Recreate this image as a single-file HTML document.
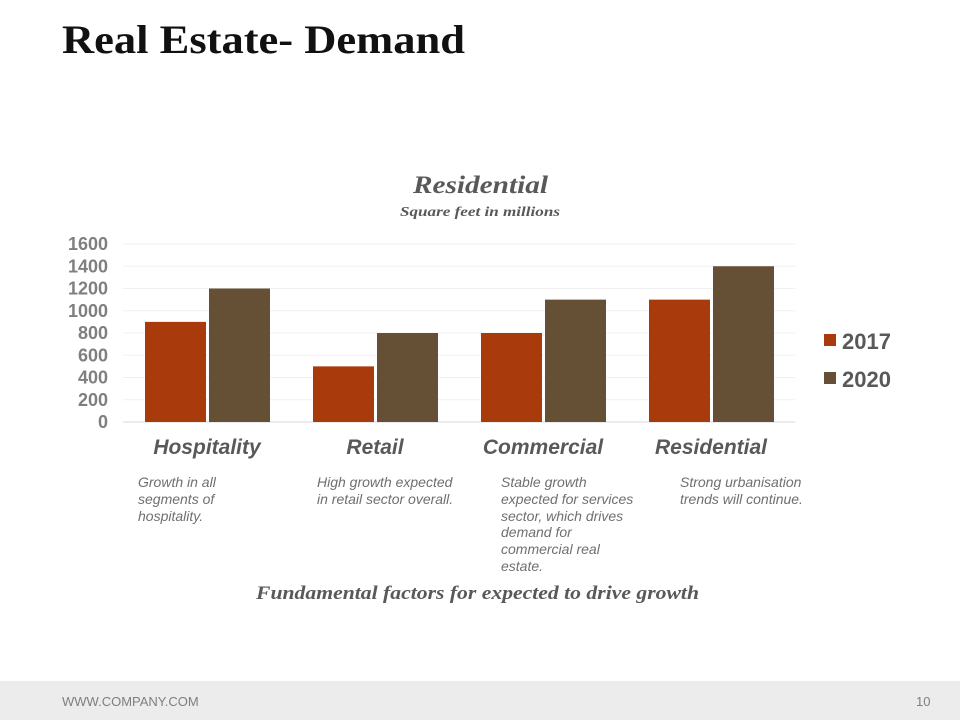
<!DOCTYPE html>
<html><head><meta charset="utf-8"><style>
body{margin:0;width:960px;height:720px;position:relative;background:#fff;overflow:hidden;font-family:"Liberation Sans",sans-serif}
.t{position:absolute}
.n{position:absolute;top:474px;font-size:14px;font-style:italic;color:#6f6f6f;line-height:16.8px;width:160px}
</style></head><body>
<svg width="960" height="720" style="position:absolute;left:0;top:0" id="chart">
<text x="62" y="53" textLength="403" lengthAdjust="spacingAndGlyphs" font-family="Liberation Serif" font-weight="bold" font-size="40" fill="#111">Real Estate- Demand</text>
<text x="413" y="193" textLength="135" lengthAdjust="spacingAndGlyphs" font-family="Liberation Serif" font-weight="bold" font-style="italic" font-size="25" fill="#595959">Residential</text>
<text x="400" y="216" textLength="160" lengthAdjust="spacingAndGlyphs" font-family="Liberation Serif" font-weight="bold" font-style="italic" font-size="14" fill="#595959">Square feet in millions</text>
<g id="grid"></g><g id="bars"></g><g id="labels"></g>
<rect x="824" y="334" width="12" height="12" fill="#A83A0C"/>
<text x="842" y="349" font-size="22" font-weight="bold" fill="#595959">2017</text>
<rect x="824" y="372" width="12" height="12" fill="#654F35"/>
<text x="842" y="387" font-size="22" font-weight="bold" fill="#595959">2020</text>
<text x="256" y="599" textLength="443" lengthAdjust="spacingAndGlyphs" font-family="Liberation Serif" font-weight="bold" font-style="italic" font-size="19" fill="#595959">Fundamental factors for expected to drive growth</text>
</svg>
<div class="n" style="left:138px">Growth in all<br>segments of<br>hospitality.</div>
<div class="n" style="left:317px">High growth expected<br>in retail sector overall.</div>
<div class="n" style="left:501px">Stable growth<br>expected for services<br>sector, which drives<br>demand for<br>commercial real<br>estate.</div>
<div class="n" style="left:680px">Strong urbanisation<br>trends will continue.</div>
<div class="t" style="left:0;top:681px;width:960px;height:39px;background:#ececec"></div>
<div class="t" style="left:62px;top:694px;font-size:13px;color:#7f7f7f">WWW.COMPANY.COM</div>
<div class="t" style="left:916px;top:694px;font-size:13px;color:#7f7f7f">10</div>
<script>
const categories=["Hospitality","Retail","Commercial","Residential"];
const values2017=[900,500,800,1100];
const values2020=[1200,800,1100,1400];
const yTicks=[0,200,400,600,800,1000,1200,1400,1600];
const NS="http://www.w3.org/2000/svg";
const x0=123,x1=795,y0=422,y1=244,yMax=1600;
const y=v=>y0-(v/yMax)*(y0-y1);
const bw=(x1-x0)/categories.length;
const xc=i=>x0+i*bw;
function mk(t,a,p){const e=document.createElementNS(NS,t);for(const k in a)e.setAttribute(k,a[k]);document.getElementById(p).appendChild(e);return e;}
yTicks.forEach(v=>{
 const l=mk('line',{x1:x0,x2:x1,y1:y(v),y2:y(v),stroke:v===0?'#d9d9d9':'#f0f0f0','stroke-width':1},'grid');
 
 
 const t=mk('text',{x:108,y:y(v)+6,'text-anchor':'end','font-size':18,'font-weight':'bold',fill:'#7f7f7f'},'grid');
 t.textContent=v;
 
 
});
categories.forEach((c,i)=>{
 const w=61;
 const a=mk('rect',{x:xc(i)+22,y:y(values2017[i]),width:w,height:y0-y(values2017[i]),fill:'#A83A0C'},'bars');
 
 
 const b=mk('rect',{x:xc(i)+22+w+3,y:y(values2020[i]),width:w,height:y0-y(values2020[i]),fill:'#654F35'},'bars');
 
 
 const t=mk('text',{x:xc(i)+bw/2,y:454,'text-anchor':'middle','font-size':21,'font-weight':'bold','font-style':'italic',fill:'#595959'},'labels');
 t.textContent=c;
 
 
});
</script>
</body></html>
